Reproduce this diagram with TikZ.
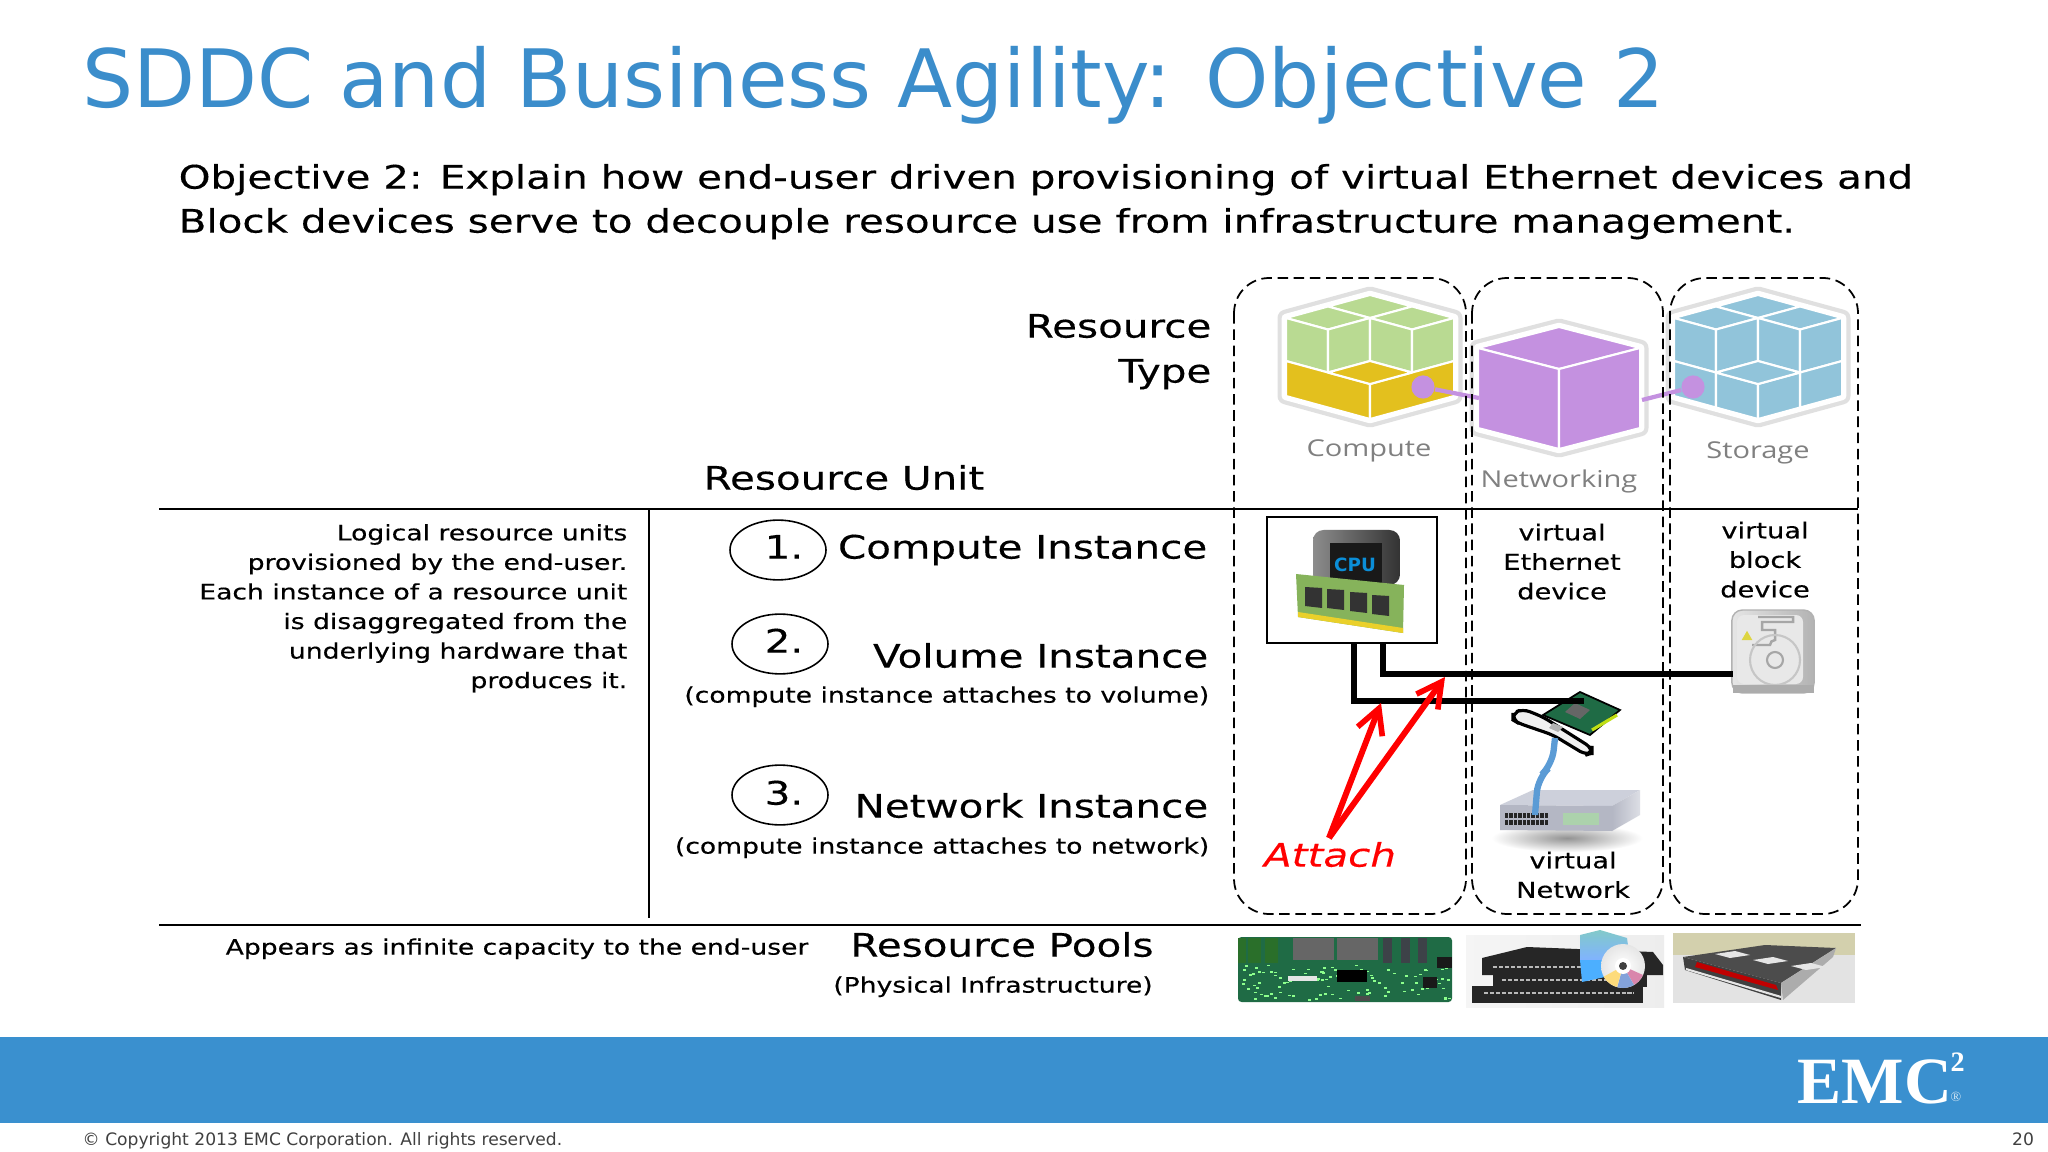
\documentclass[tikz,border=0pt]{standalone}
\usepackage{fontspec}
\setmainfont{DejaVu Sans}
\newfontfamily\pastefont[FakeStretch=1.25,FakeBold=0.3]{DejaVu Sans}
\newfontfamily\logofont{Liberation Serif}
\newfontfamily\cubefont[FakeStretch=1.25]{Open Sans}
\usetikzlibrary{arrows.meta,calc,positioning,shapes.geometric}
\definecolor{titleblue}{HTML}{3B8DCB}
\definecolor{bandblue}{HTML}{3A90CF}
\definecolor{footgray}{HTML}{404040}
\definecolor{cubegreen}{HTML}{B9DA92}
\definecolor{cubeyellow}{HTML}{E3C01E}
\definecolor{cubeblue}{HTML}{91C4DA}
\definecolor{cubepurple}{HTML}{C491E0}
\definecolor{halogray}{HTML}{E0E0E0}
\definecolor{boardgreen}{HTML}{1F6B45}
\definecolor{ramgreen}{HTML}{86B35B}
\definecolor{cableblue}{HTML}{5B9BD5}
\definecolor{swtop}{HTML}{CDD0DB}
\definecolor{swfront}{HTML}{B4B7C4}
\definecolor{swside}{HTML}{C6C9D4}
\tikzset{
  txt/.style={inner sep=0pt,text=black},
  body/.style={txt,font=\pastefont\fontsize{9.2}{12}\selectfont},
  small/.style={txt,font=\pastefont\fontsize{6.05}{8.4}\selectfont},
  cubelabel/.style={txt,text=gray,font=\cubefont\fontsize{6.6}{8}\selectfont},
  virt/.style={txt,align=center,font=\pastefont\fontsize{6.2}{8.4}\selectfont},
  numring/.style={draw=black,line width=.45pt,ellipse,inner sep=0pt,minimum width=27.3pt,minimum height=17pt},
  dashbox/.style={draw=black,line width=.5pt,dash pattern=on 3pt off 1.6pt,rounded corners=10pt},
  rule/.style={draw=black,line width=.5pt},
  face/.style={draw=white,line width=.6pt,line join=round},
  link/.style={draw=black,line width=1.5pt},
  attach/.style={draw=red,line width=1.7pt,-{Straight Barb[length=7pt,width=7.5pt,line width=1.6pt]}},
  dotlink/.style={draw=cubepurple,line width=1.2pt},
  dot/.style={circle,fill=cubepurple,inner sep=0pt,minimum size=6.6pt},
  isoaxes/.style={x={(.42cm,-.115cm)},y={(-.42cm,-.115cm)},z={(0cm,-.01cm)}},
  netaxes/.style={x={(.405cm,-.105cm)},y={(-.405cm,-.105cm)},z={(0cm,-.01cm)}}
}
% two layer cube: position, upper colour
\newcommand{\stackcube}[3]{
  \begin{scope}[shift={(#1,#2)},isoaxes]
    \draw[draw=halogray,fill=white,line width=4.8pt,line join=round] (0,0,0)--(2,0,0)--(2,0,78)--(2,2,78)--(0,2,78)--(0,2,0)--cycle;
    \draw[draw=white,line width=2.4pt,line join=round] (0,0,0)--(2,0,0)--(2,0,78)--(2,2,78)--(0,2,78)--(0,2,0)--cycle;
    %top
    \filldraw[face,fill=#3] (0,0,0)--(1,0,0)--(1,1,0)--(0,1,0)--cycle;
    \filldraw[face,fill=#3] (1,0,0)--(2,0,0)--(2,1,0)--(1,1,0)--cycle;
    \filldraw[face,fill=#3] (0,1,0)--(1,1,0)--(1,2,0)--(0,2,0)--cycle;
    %upper walls
    \filldraw[face,fill=#3] (0,2,0)--(1,2,0)--(1,2,43)--(0,2,43)--cycle;
    \filldraw[face,fill=#3] (1,2,0)--(1,1,0)--(1,1,43)--(1,2,43)--cycle;
    \filldraw[face,fill=#3] (1,1,0)--(2,1,0)--(2,1,43)--(1,1,43)--cycle;
    \filldraw[face,fill=#3] (2,1,0)--(2,0,0)--(2,0,43)--(2,1,43)--cycle;
  \end{scope}
}
\begin{document}
\begin{tikzpicture}[x=0.01cm,y=-0.01cm]
  \useasboundingbox (0,0) rectangle (2048,1152);
  \fill[white] (0,0) rectangle (2048,1152);

  %title
  \node[txt,text=titleblue,anchor=base west,font=\fontsize{22.9}{26}\selectfont] (title) at (82,108) {SDDC and Business Agility: Objective 2};
  \node[body,anchor=mid west] (obj1) at (178,179) {Objective 2: Explain how end-user driven provisioning of virtual Ethernet devices and};
  \node[body,anchor=mid west] (obj2) at (178,223) {Block devices serve to decouple resource use from infrastructure management.};

  %cubes
  \stackcube{1370}{295}{cubegreen}
  \begin{scope}[shift={(1370,295)},isoaxes]
    \filldraw[face,fill=cubeyellow] (0,2,43)--(2,2,43)--(2,2,78)--(0,2,78)--cycle;
    \filldraw[face,fill=cubeyellow] (2,2,43)--(2,0,43)--(2,0,78)--(2,2,78)--cycle;
    \filldraw[face,fill=cubeyellow] (1,1,43)--(2,1,43)--(2,2,43)--(1,2,43)--cycle;
  \end{scope}
  \stackcube{1758}{295}{cubeblue}
  \begin{scope}[shift={(1758,295)},isoaxes]
    \foreach \a in {0,1} {
      \filldraw[face,fill=cubeblue] (\a,2,43)--({\a+1},2,43)--({\a+1},2,78)--(\a,2,78)--cycle;
      \filldraw[face,fill=cubeblue] (2,{\a+1},43)--(2,\a,43)--(2,\a,78)--(2,{\a+1},78)--cycle;
    }
    \filldraw[face,fill=cubeblue] (1,1,43)--(2,1,43)--(2,2,43)--(1,2,43)--cycle;
  \end{scope}
  %network cube
  \begin{scope}[shift={(1559,327)},netaxes]
    \draw[draw=halogray,fill=white,line width=4.8pt,line join=round] (0,0,0)--(2,0,0)--(2,0,80)--(2,2,80)--(0,2,80)--(0,2,0)--cycle;
    \draw[draw=white,line width=2.4pt,line join=round] (0,0,0)--(2,0,0)--(2,0,80)--(2,2,80)--(0,2,80)--(0,2,0)--cycle;
    \filldraw[face,fill=cubepurple] (0,0,0)--(2,0,0)--(2,2,0)--(0,2,0)--cycle;
    \filldraw[face,fill=cubepurple] (0,2,0)--(2,2,0)--(2,2,80)--(0,2,80)--cycle;
    \filldraw[face,fill=cubepurple] (2,2,0)--(2,0,0)--(2,0,80)--(2,2,80)--cycle;
  \end{scope}
  \node[dot] (dotc) at (1423,387) {};
  \node[dot] (dots) at (1693,387) {};
  \coordinate (netl) at (1479,398);
  \coordinate (netr) at (1642,400);
  \draw[dotlink] (dotc) -- (netl);
  \draw[dotlink] (dots) -- (netr);
  \node[cubelabel] (lcomp) at (1369,451) {Compute};
  \node[cubelabel] (lnet) at (1559,481) {Networking};
  \node[cubelabel] (lstor) at (1758,453) {Storage};

  %column frames
  \draw[dashbox] (1234,278) rectangle (1466,914);
  \draw[dashbox] (1472,278) rectangle (1663,914);
  \draw[dashbox] (1670,278) rectangle (1858,914);

  %rules
  \draw[rule] (159,509) -- (1858,509);
  \draw[rule] (159,925) -- (1861,925);
  \draw[rule] (649,509) -- (649,918);

  %heads
  \node[body,anchor=mid east] (rtype1) at (1212,328) {Resource};
  \node[body,anchor=mid east] (rtype2) at (1212,373) {Type};
  \node[body,anchor=mid] (runit) at (844,480) {Resource Unit};
  \node[small,anchor=north east,align=right] (logical) at (628,523.5) {Logical resource units\\provisioned by the end-user.\\Each instance of a resource unit\\is disaggregated from the\\underlying hardware that\\produces it.};

  %resource units
  \node[numring] (ring1) at (778,550) {};
  \node[numring] (ring2) at (780,644) {};
  \node[numring] (ring3) at (780,795) {};
  \node[body,anchor=mid] (n1) at (784,549) {1.};
  \node[body,anchor=mid] (n2) at (784,643) {2.};
  \node[body,anchor=mid] (n3) at (784,795) {3.};
  \node[body,anchor=mid east] (ucomp) at (1208,549) {Compute Instance};
  \node[body,anchor=mid east] (uvol) at (1209,658) {Volume Instance};
  \node[small,anchor=mid east] (pvol) at (1210,693) {(compute instance attaches to volume)};
  \node[body,anchor=mid east] (unet) at (1209,808) {Network Instance};
  \node[small,anchor=mid east] (pnet) at (1210,844) {(compute instance attaches to network)};

  %pools text
  \node[small,anchor=mid west] (infin) at (225,945) {Appears as infinite capacity to the end-user};
  \node[body,anchor=mid] (pools) at (1002,947) {Resource Pools};
  \node[small,anchor=mid] (phys) at (993,983) {(Physical Infrastructure)};

  %cpu
  \node[draw=black,line width=.5pt,fill=white,minimum width=48.4pt,minimum height=36pt,inner sep=0pt] (cpubox) at (1352,580) {};
  \shade[left color=black!45,right color=black!80,rounded corners=3pt] (1313,530) rectangle (1400,585);
  \fill[black!90] (1330,543) rectangle (1382,585);
  \node[txt,text=cyan!75!blue,font=\fontsize{5.2}{6}\bfseries\selectfont] (cpu) at (1355,565) {CPU};
  \fill[ramgreen] (1296,574) -- (1404,585) -- (1403,633) -- (1298,617) -- cycle;
  \fill[yellow!65!brown] (1298,612) -- (1403,628) -- (1403,633) -- (1298,617) -- cycle;
  \foreach \cx/\cy in {1305/587,1327/589,1350/592,1372/595} {
    \fill[black!80] (\cx,\cy) -- ({\cx+17},{\cy+1}) -- ({\cx+17},{\cy+21}) -- (\cx,{\cy+19}) -- cycle;
  }

  %disk
  \node[rounded corners=3pt,draw=gray!60,left color=gray!20,right color=gray!60,minimum width=23.4pt,minimum height=23.6pt,inner sep=0pt] (disk) at (1773,651.5) {};
  \fill[gray!18,rounded corners=2pt] (1737,615) rectangle (1803,684);
  \draw[gray!70,line width=.7pt] (1758,617) -- (1793,617) -- (1793,622) -- (1762,622) -- (1762,630) -- (1775,630) -- (1775,640) arc[start angle=-90,end angle=-180,radius=5] -- (1752,645);
  \draw[gray!70,line width=.6pt] (1775,660) circle (8);
  \draw[gray!45,line width=.6pt] (1775,660) circle (25);
  \node[regular polygon,regular polygon sides=3,fill=yellow!70!gray,inner sep=0pt,minimum size=3.5pt] (warn) at (1747,637) {};
  \fill[gray!65] (1733,685) rectangle (1814,693);
  \coordinate (diskport) at (1733,674);

  %nic
  \draw[black,line width=.9pt,fill=gray!12,rounded corners=2pt] (1513,713) -- (1523,709) -- (1543,717) -- (1592,748) -- (1592,753) -- (1586,755) -- (1553,735) -- (1518,723) -- (1513,720) -- cycle;
  \draw[black,line width=.5pt,fill=boardgreen] (1580,692) -- (1620,710) -- (1590,735) -- (1543,715) -- cycle;
  \draw[yellow!75!green,line width=.9pt] (1592,730) -- (1617,715);
  \fill[black!60] (1575,703) -- (1590,710) -- (1580,719) -- (1565,712) -- cycle;
  \fill[gray!60] (1553,723) -- (1563,727) -- (1558,732) -- (1549,728) -- cycle;
  \node[inner sep=0pt,minimum size=2pt] (nic) at (1588,701) {};

  %switch
  \node[ellipse,shading=radial,inner color=gray!85,outer color=white,inner sep=0pt,minimum width=43pt,minimum height=8pt] (swshadow) at (1567,838) {};
  \fill[swtop] (1500,805) -- (1533,790) -- (1640,790) -- (1612,806) -- cycle;
  \shade[left color=swfront,right color=swside!60!white] (1612,806) -- (1640,790) -- (1640,815) -- (1612,831) -- cycle;
  \fill[swfront] (1500,805) -- (1612,806) -- (1612,831) -- (1500,830) -- cycle;
  \foreach \px in {0,...,9} {
    \fill[black!85] ({1505+\px*4.4},813) rectangle ({1508.4+\px*4.4},817.5);
    \fill[black!85] ({1505+\px*4.4},819.5) rectangle ({1508.4+\px*4.4},825);
  }
  \fill[green!30!gray!50] (1563,813) rectangle (1599,825);
  \draw[cableblue,line width=1.8pt,rounded corners=4pt] (1555,738) -- (1552,765) -- (1538,778) -- (1535,815);

  %links between devices
  \coordinate (linkc) at (1354,643);
  \coordinate (linkd) at (1383,643);
  \draw[link] (linkc) |- (nic.west);
  \draw[link] (linkd) |- (diskport);

  %attach
  \coordinate (atail) at (1329,838);
  \coordinate (ahead1) at (1381,703);
  \coordinate (ahead2) at (1445,677);
  \draw[attach] (atail) -- (ahead1);
  \draw[attach] (atail) -- (ahead2);
  \node[txt,text=red,anchor=mid,font=\pastefont\fontsize{9.2}{11}\itshape\selectfont] (attach) at (1330,857) {Attach};

  %virtual labels
  \node[virt,anchor=north] (veth) at (1562,523) {virtual\\Ethernet\\device};
  \node[virt,anchor=north] (vblk) at (1765,521) {virtual\\block\\device};
  \node[virt,anchor=north] (vnet) at (1573,851) {virtual\\Network};

  %mother board
  \fill[boardgreen,rounded corners=1pt] (1238,937) rectangle (1452,1002);
  \fill[black!60] (1293,938) rectangle (1334,960);
  \fill[black!60] (1337,938) rectangle (1378,960);
  \foreach \bx/\bw in {1238/8,1248/13,1265/13} {
    \fill[gray!55!green!60!black] (\bx,938) rectangle ({\bx+\bw},963);
  }
  \foreach \bx in {1383,1401,1418} {
    \fill[black!55!cyan!40!black] (\bx,938) rectangle ({\bx+9},963);
  }
  \pgfmathsetseed{42}
  \foreach \sp in {1,...,110} {
    \pgfmathsetmacro{\spx}{1240+rnd*208}
    \pgfmathsetmacro{\spy}{964+rnd*35}
    \fill[white!55!green] (\spx,\spy) rectangle ({\spx+3},{\spy+1.6});
  }
  \fill[white!80!gray] (1288,976) rectangle (1317,981);
  \fill[black] (1337,970) rectangle (1367,982);
  \fill[black!90] (1437,957) rectangle (1452,968);
  \fill[black!90] (1423,977) rectangle (1437,988);
  \fill[black!70] (1355,996) rectangle (1370,1001);
  %rack stack
  \shade[left color=gray!8,right color=gray!14] (1466,935) rectangle (1664,1007);
  \fill[black!85] (1482,958) -- (1527,947) -- (1653,952) -- (1663,965) -- (1663,975) -- (1482,975) -- cycle;
  \fill[black!85] (1493,975) rectangle (1647,987);
  \fill[black!85] (1472,986) rectangle (1643,1003);
  \foreach \ly/\lx/\lw in {967/1493/125,980/1502/130,993/1484/150} {
    \draw[gray!55,line width=.7pt,dash pattern=on 1.2pt off .5pt] (\lx,\ly) -- ({\lx+\lw},\ly);
  }
  \shade[top color=cyan!40!gray!70,bottom color=cyan!40!blue!50] (1580,935) -- (1600,930) -- (1627,938) -- (1630,960) -- (1580,960) -- cycle;
  \fill[blue!45!cyan!70] (1580,960) -- (1630,960) -- (1628,972) -- (1582,982) -- cycle;
  \shade[inner color=white,outer color=gray!20] (1623,966) circle (22);
  \fill[pink!70!violet] (1623,966) -- (1643,975) arc[start angle=25,end angle=60,radius=22] -- cycle;
  \fill[cyan!45!blue!50] (1623,966) -- (1634,985) arc[start angle=60,end angle=105,radius=22] -- cycle;
  \fill[yellow!50!orange!50] (1623,966) -- (1617,987) arc[start angle=105,end angle=150,radius=22] -- cycle;
  \fill[white] (1623,966) circle (8);
  \fill[black!75] (1623,966) circle (4);
  %storage chassis
  \fill[gray!55!olive!40!white] (1673,933) rectangle (1855,955);
  \fill[gray!22] (1673,955) rectangle (1855,1003);
  \fill[black!70] (1683,957) -- (1765,945) -- (1836,948) -- (1781,983) -- cycle;
  \fill[black!75] (1683,957) -- (1781,983) -- (1781,1000) -- (1685,970) -- cycle;
  \fill[gray!65] (1781,983) -- (1836,948) -- (1833,957) -- (1783,1000) -- cycle;
  \foreach \dx/\dy in {0/0,1/1,2/2} {
    \fill[white!80!gray] ({1715+\dx*38},{954+\dx*6}) -- ({1735+\dx*38},{951+\dx*6}) -- ({1750+\dx*38},{955+\dx*6}) -- ({1730+\dx*38},{958+\dx*6}) -- cycle;
  }
  \fill[red!75!black] (1695,967) -- (1778,990) -- (1776,985) -- (1697,962) -- cycle;
  \draw[gray!20,line width=.6pt] (1686,969) -- (1781,997);

  %footer
  \fill[bandblue] (0,1037) rectangle (2048,1123);
  \node[txt,text=white,anchor=base west,font=\logofont\bfseries\fontsize{18.8}{20}\selectfont] (emc) at (1797,1103) {EMC};
  \node[txt,text=white,anchor=base west,font=\logofont\bfseries\fontsize{8}{8}\selectfont] (emc2) at (1950,1071) {2};
  \node[txt,text=white!80!bandblue,anchor=base west,font=\logofont\fontsize{4}{4}\selectfont] (emcr) at (1950,1101) {®};
  \node[txt,text=footgray,anchor=mid west,font=\fontsize{4.87}{6}\selectfont] (copy) at (82,1136) {© Copyright 2013 EMC Corporation. All rights reserved.};
  \node[txt,text=footgray,anchor=mid,font=\fontsize{4.87}{6}\selectfont] (page) at (2023,1136) {20};
\end{tikzpicture}
\end{document}
